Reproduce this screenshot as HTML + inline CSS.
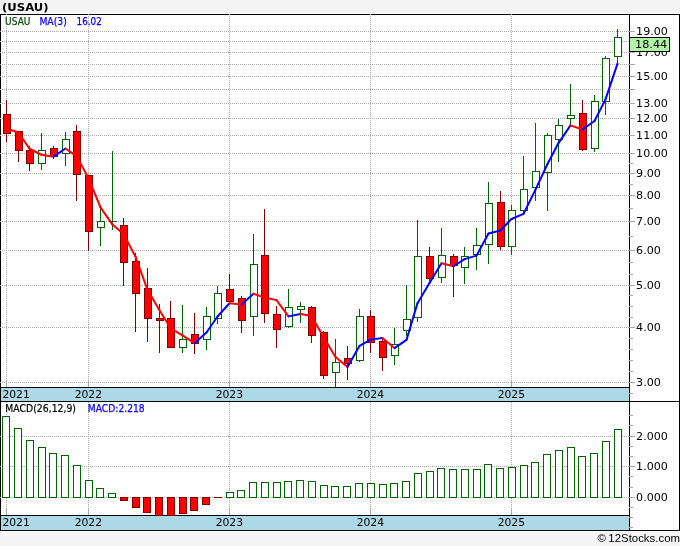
<!DOCTYPE html>
<html><head><meta charset="utf-8"><title>USAU</title>
<style>html,body{margin:0;padding:0;background:#f4f4f4;overflow:hidden}body{width:680px;height:546px;position:relative}</style></head>
<body>
<svg width="680" height="546" viewBox="0 0 680 546" style="position:absolute;left:0;top:0;display:block">
<rect x="0" y="0" width="680" height="546" fill="#f4f4f4"/>
<rect x="0" y="13" width="680" height="519" fill="#ffffff"/>
<rect x="1" y="388" width="628" height="13" fill="#add8e6"/>
<rect x="1" y="516" width="628" height="14" fill="#add8e6"/>
<g stroke="#000" stroke-width="1" shape-rendering="crispEdges" fill="none">
<rect x="0.5" y="14.5" width="679" height="516"/>
<path d="M629.5 14V531"/>
<path d="M0 387.5H630"/>
<path d="M0 401.5H680"/>
<path d="M0 515.5H630"/>
</g>
<g stroke="#a9a9a9" stroke-width="1" stroke-dasharray="1 1" shape-rendering="crispEdges" fill="none">
<path d="M0 31.5H629"/>
<path d="M0 41.5H629"/>
<path d="M0 52.5H629"/>
<path d="M0 64.5H629"/>
<path d="M0 76.5H629"/>
<path d="M0 89.5H629"/>
<path d="M0 103.5H629"/>
<path d="M0 118.5H629"/>
<path d="M0 135.5H629"/>
<path d="M0 153.5H629"/>
<path d="M0 173.5H629"/>
<path d="M0 195.5H629"/>
<path d="M0 221.5H629"/>
<path d="M0 250.5H629"/>
<path d="M0 285.5H629"/>
<path d="M0 327.5H629"/>
<path d="M0 382.5H629"/>
<path d="M0 497.5H629"/>
<path d="M0 466.5H629"/>
<path d="M0 436.5H629"/>
<path d="M6.5 14V381"/>
<path d="M6.5 402V509"/>
<path d="M88.5 14V381"/>
<path d="M88.5 402V509"/>
<path d="M229.5 14V381"/>
<path d="M229.5 402V509"/>
<path d="M370.5 14V381"/>
<path d="M370.5 402V509"/>
<path d="M511.5 14V381"/>
<path d="M511.5 402V509"/>
</g>
<g stroke="#a9a9a9" stroke-width="1" shape-rendering="crispEdges">
<path d="M6.5 381V387"/>
<path d="M6.5 509V515"/>
<path d="M88.5 381V387"/>
<path d="M88.5 509V515"/>
<path d="M229.5 381V387"/>
<path d="M229.5 509V515"/>
<path d="M370.5 381V387"/>
<path d="M370.5 509V515"/>
<path d="M511.5 381V387"/>
<path d="M511.5 509V515"/>
<path d="M628 31.5H635"/>
<path d="M628 41.5H635"/>
<path d="M628 52.5H635"/>
<path d="M628 64.5H635"/>
<path d="M628 76.5H635"/>
<path d="M628 89.5H635"/>
<path d="M628 103.5H635"/>
<path d="M628 118.5H635"/>
<path d="M628 135.5H635"/>
<path d="M628 153.5H635"/>
<path d="M628 173.5H635"/>
<path d="M628 195.5H635"/>
<path d="M628 221.5H635"/>
<path d="M628 250.5H635"/>
<path d="M628 285.5H635"/>
<path d="M628 327.5H635"/>
<path d="M628 382.5H635"/>
<path d="M629 163.5H633"/>
<path d="M629 184.5H633"/>
<path d="M629 208.5H633"/>
<path d="M629 236.5H633"/>
<path d="M629 262.5H633"/>
<path d="M629 274.5H633"/>
<path d="M629 295.5H633"/>
<path d="M629 306.5H633"/>
<path d="M629 317.5H633"/>
<path d="M629 338.5H633"/>
<path d="M629 349.5H633"/>
<path d="M629 360.5H633"/>
<path d="M629 371.5H633"/>
<path d="M629 393.5H633"/>
<path d="M628 497.5H635"/>
<path d="M628 466.5H635"/>
<path d="M628 436.5H635"/>
<path d="M629 527.5H633"/>
<path d="M629 517.5H633"/>
<path d="M629 507.5H633"/>
<path d="M629 487.5H633"/>
<path d="M629 476.5H633"/>
<path d="M629 456.5H633"/>
<path d="M629 446.5H633"/>
<path d="M629 425.5H633"/>
<path d="M629 415.5H633"/>
</g>
<g shape-rendering="crispEdges" stroke-width="1">
<path d="M6.5 100.00V141.75" stroke="#800000"/>
<rect x="3.5" y="114.5" width="7" height="19.0" fill="#ff0000" stroke="#800000"/>
<path d="M18.5 131.25V161.50" stroke="#800000"/>
<rect x="15.5" y="131.5" width="7" height="19.0" fill="#ff0000" stroke="#800000"/>
<path d="M29.5 145.50V170.50" stroke="#800000"/>
<rect x="26.5" y="150.5" width="7" height="13.0" fill="#ff0000" stroke="#800000"/>
<path d="M41.5 133.00V170.20" stroke="#006400"/>
<rect x="38.5" y="150.5" width="7" height="13.0" fill="#ffffff" stroke="#006400"/>
<path d="M53.5 146.25V158.75" stroke="#800000"/>
<rect x="50.5" y="148.5" width="7" height="8.0" fill="#ff0000" stroke="#800000"/>
<path d="M65.5 132.00V165.75" stroke="#006400"/>
<rect x="62.5" y="139.5" width="7" height="14.0" fill="#ffffff" stroke="#006400"/>
<path d="M76.5 125.00V200.50" stroke="#800000"/>
<rect x="73.5" y="131.5" width="7" height="43.0" fill="#ff0000" stroke="#800000"/>
<path d="M88.5 175.00V250.50" stroke="#800000"/>
<rect x="85.5" y="175.5" width="7" height="56.0" fill="#ff0000" stroke="#800000"/>
<path d="M100.5 204.50V245.50" stroke="#006400"/>
<rect x="97.5" y="221.5" width="7" height="6.0" fill="#ffffff" stroke="#006400"/>
<path d="M112.5 151.25V229.50" stroke="#006400"/>
<path d="M109.0 221.5H117.0" stroke="#006400"/>
<path d="M123.5 218.00V285.50" stroke="#800000"/>
<rect x="120.5" y="225.5" width="7" height="37.0" fill="#ff0000" stroke="#800000"/>
<path d="M135.5 252.50V331.50" stroke="#800000"/>
<rect x="132.5" y="261.5" width="7" height="32.0" fill="#ff0000" stroke="#800000"/>
<path d="M147.5 268.00V341.50" stroke="#800000"/>
<rect x="144.5" y="288.5" width="7" height="30.0" fill="#ff0000" stroke="#800000"/>
<path d="M159.5 304.00V352.50" stroke="#800000"/>
<rect x="156.5" y="318.5" width="7" height="2.0" fill="#ff0000" stroke="#800000"/>
<path d="M170.5 301.25V347.00" stroke="#800000"/>
<rect x="167.5" y="318.5" width="7" height="29.0" fill="#ff0000" stroke="#800000"/>
<path d="M182.5 305.00V352.50" stroke="#006400"/>
<rect x="179.5" y="339.5" width="7" height="8.0" fill="#ffffff" stroke="#006400"/>
<path d="M194.5 313.00V353.75" stroke="#800000"/>
<rect x="191.5" y="334.5" width="7" height="9.0" fill="#ff0000" stroke="#800000"/>
<path d="M206.5 307.00V349.50" stroke="#006400"/>
<rect x="203.5" y="316.5" width="7" height="23.0" fill="#ffffff" stroke="#006400"/>
<path d="M217.5 286.25V323.75" stroke="#006400"/>
<rect x="214.5" y="293.5" width="7" height="25.0" fill="#ffffff" stroke="#006400"/>
<path d="M229.5 274.25V303.75" stroke="#800000"/>
<rect x="226.5" y="289.5" width="7" height="12.0" fill="#ff0000" stroke="#800000"/>
<path d="M241.5 296.25V332.50" stroke="#800000"/>
<rect x="238.5" y="298.5" width="7" height="22.0" fill="#ff0000" stroke="#800000"/>
<path d="M253.5 234.25V335.50" stroke="#006400"/>
<rect x="250.5" y="264.5" width="7" height="52.0" fill="#ffffff" stroke="#006400"/>
<path d="M264.5 208.75V322.50" stroke="#800000"/>
<rect x="261.5" y="255.5" width="7" height="58.0" fill="#ff0000" stroke="#800000"/>
<path d="M276.5 305.50V347.50" stroke="#800000"/>
<rect x="273.5" y="314.5" width="7" height="15.0" fill="#ff0000" stroke="#800000"/>
<path d="M288.5 289.25V327.50" stroke="#006400"/>
<rect x="285.5" y="307.5" width="7" height="19.0" fill="#ffffff" stroke="#006400"/>
<path d="M300.5 302.00V322.50" stroke="#006400"/>
<rect x="297.5" y="306.5" width="7" height="3.0" fill="#ffffff" stroke="#006400"/>
<path d="M311.5 305.75V342.50" stroke="#800000"/>
<rect x="308.5" y="307.5" width="7" height="28.0" fill="#ff0000" stroke="#800000"/>
<path d="M323.5 330.75V378.75" stroke="#800000"/>
<rect x="320.5" y="332.5" width="7" height="43.0" fill="#ff0000" stroke="#800000"/>
<path d="M335.5 339.25V387.00" stroke="#006400"/>
<rect x="332.5" y="362.5" width="7" height="10.0" fill="#ffffff" stroke="#006400"/>
<path d="M347.5 346.25V379.50" stroke="#800000"/>
<rect x="344.5" y="358.5" width="7" height="5.0" fill="#ff0000" stroke="#800000"/>
<path d="M359.5 309.25V361.50" stroke="#006400"/>
<rect x="356.5" y="316.5" width="7" height="44.0" fill="#ffffff" stroke="#006400"/>
<path d="M370.5 310.00V352.50" stroke="#800000"/>
<rect x="367.5" y="316.5" width="7" height="26.0" fill="#ff0000" stroke="#800000"/>
<path d="M382.5 338.75V370.75" stroke="#800000"/>
<rect x="379.5" y="341.5" width="7" height="16.0" fill="#ff0000" stroke="#800000"/>
<path d="M394.5 328.00V365.00" stroke="#006400"/>
<rect x="391.5" y="344.5" width="7" height="11.0" fill="#ffffff" stroke="#006400"/>
<path d="M406.5 285.25V336.00" stroke="#006400"/>
<rect x="403.5" y="319.5" width="7" height="11.0" fill="#ffffff" stroke="#006400"/>
<path d="M417.5 220.00V321.75" stroke="#006400"/>
<rect x="414.5" y="256.5" width="7" height="61.0" fill="#ffffff" stroke="#006400"/>
<path d="M429.5 246.75V281.00" stroke="#800000"/>
<rect x="426.5" y="256.5" width="7" height="22.0" fill="#ff0000" stroke="#800000"/>
<path d="M441.5 228.00V282.50" stroke="#006400"/>
<rect x="438.5" y="255.5" width="7" height="22.0" fill="#ffffff" stroke="#006400"/>
<path d="M453.5 253.75V296.75" stroke="#800000"/>
<rect x="450.5" y="256.5" width="7" height="9.0" fill="#ff0000" stroke="#800000"/>
<path d="M464.5 246.75V283.75" stroke="#006400"/>
<rect x="461.5" y="256.5" width="7" height="11.0" fill="#ffffff" stroke="#006400"/>
<path d="M476.5 228.00V270.00" stroke="#006400"/>
<rect x="473.5" y="245.5" width="7" height="9.0" fill="#ffffff" stroke="#006400"/>
<path d="M488.5 182.00V263.75" stroke="#006400"/>
<rect x="485.5" y="203.5" width="7" height="41.0" fill="#ffffff" stroke="#006400"/>
<path d="M500.5 191.25V250.00" stroke="#800000"/>
<rect x="497.5" y="202.5" width="7" height="44.0" fill="#ff0000" stroke="#800000"/>
<path d="M511.5 204.50V254.50" stroke="#006400"/>
<rect x="508.5" y="210.5" width="7" height="36.0" fill="#ffffff" stroke="#006400"/>
<path d="M523.5 156.25V213.75" stroke="#006400"/>
<rect x="520.5" y="189.5" width="7" height="21.0" fill="#ffffff" stroke="#006400"/>
<path d="M535.5 123.25V201.25" stroke="#006400"/>
<rect x="532.5" y="171.5" width="7" height="16.0" fill="#ffffff" stroke="#006400"/>
<path d="M547.5 132.50V210.50" stroke="#006400"/>
<rect x="544.5" y="135.5" width="7" height="37.0" fill="#ffffff" stroke="#006400"/>
<path d="M558.5 118.75V161.75" stroke="#006400"/>
<rect x="555.5" y="125.5" width="7" height="14.0" fill="#ffffff" stroke="#006400"/>
<path d="M570.5 84.00V125.00" stroke="#006400"/>
<rect x="567.5" y="115.5" width="7" height="3.0" fill="#ffffff" stroke="#006400"/>
<path d="M582.5 100.00V150.75" stroke="#800000"/>
<rect x="579.5" y="113.5" width="7" height="36.0" fill="#ff0000" stroke="#800000"/>
<path d="M594.5 95.10V152.00" stroke="#006400"/>
<rect x="591.5" y="101.5" width="7" height="47.0" fill="#ffffff" stroke="#006400"/>
<path d="M605.5 56.30V114.70" stroke="#006400"/>
<rect x="602.5" y="58.5" width="7" height="43.0" fill="#ffffff" stroke="#006400"/>
<path d="M617.5 29.10V64.00" stroke="#006400"/>
<rect x="614.5" y="37.5" width="7" height="19.0" fill="#ffffff" stroke="#006400"/>
</g>
<g shape-rendering="crispEdges" stroke-width="1">
<rect x="2.5" y="416.5" width="7" height="81.0" fill="#ffffff" stroke="#006400"/>
<rect x="14.5" y="428.5" width="7" height="69.0" fill="#ffffff" stroke="#006400"/>
<rect x="26.5" y="440.5" width="7" height="57.0" fill="#ffffff" stroke="#006400"/>
<rect x="38.5" y="447.5" width="7" height="50.0" fill="#ffffff" stroke="#006400"/>
<rect x="49.5" y="453.5" width="7" height="44.0" fill="#ffffff" stroke="#006400"/>
<rect x="61.5" y="455.5" width="7" height="42.0" fill="#ffffff" stroke="#006400"/>
<rect x="73.5" y="465.5" width="7" height="32.0" fill="#ffffff" stroke="#006400"/>
<rect x="85.5" y="480.5" width="7" height="17.0" fill="#ffffff" stroke="#006400"/>
<rect x="96.5" y="488.5" width="7" height="9.0" fill="#ffffff" stroke="#006400"/>
<rect x="108.5" y="493.5" width="7" height="4.0" fill="#ffffff" stroke="#006400"/>
<rect x="120.5" y="497.5" width="7" height="3.0" fill="#ff0000" stroke="#800000"/>
<rect x="132.5" y="497.5" width="7" height="10.0" fill="#ff0000" stroke="#800000"/>
<rect x="143.5" y="497.5" width="7" height="15.0" fill="#ff0000" stroke="#800000"/>
<rect x="155.5" y="497.5" width="7" height="18.0" fill="#ff0000" stroke="#800000"/>
<rect x="167.5" y="497.5" width="7" height="18.0" fill="#ff0000" stroke="#800000"/>
<rect x="179.5" y="497.5" width="7" height="16.0" fill="#ff0000" stroke="#800000"/>
<rect x="190.5" y="497.5" width="7" height="13.0" fill="#ff0000" stroke="#800000"/>
<rect x="202.5" y="497.5" width="7" height="7.0" fill="#ff0000" stroke="#800000"/>
<path d="M214.0 497.5H222.0" stroke="#800000"/>
<rect x="226.5" y="492.5" width="7" height="5.0" fill="#ffffff" stroke="#006400"/>
<rect x="237.5" y="490.5" width="7" height="7.0" fill="#ffffff" stroke="#006400"/>
<rect x="249.5" y="482.5" width="7" height="15.0" fill="#ffffff" stroke="#006400"/>
<rect x="261.5" y="482.5" width="7" height="15.0" fill="#ffffff" stroke="#006400"/>
<rect x="273.5" y="482.5" width="7" height="15.0" fill="#ffffff" stroke="#006400"/>
<rect x="284.5" y="481.5" width="7" height="16.0" fill="#ffffff" stroke="#006400"/>
<rect x="296.5" y="480.5" width="7" height="17.0" fill="#ffffff" stroke="#006400"/>
<rect x="308.5" y="481.5" width="7" height="16.0" fill="#ffffff" stroke="#006400"/>
<rect x="320.5" y="485.5" width="7" height="12.0" fill="#ffffff" stroke="#006400"/>
<rect x="331.5" y="486.5" width="7" height="11.0" fill="#ffffff" stroke="#006400"/>
<rect x="343.5" y="486.5" width="7" height="11.0" fill="#ffffff" stroke="#006400"/>
<rect x="355.5" y="483.5" width="7" height="14.0" fill="#ffffff" stroke="#006400"/>
<rect x="367.5" y="483.5" width="7" height="14.0" fill="#ffffff" stroke="#006400"/>
<rect x="379.5" y="484.5" width="7" height="13.0" fill="#ffffff" stroke="#006400"/>
<rect x="390.5" y="483.5" width="7" height="14.0" fill="#ffffff" stroke="#006400"/>
<rect x="402.5" y="481.5" width="7" height="16.0" fill="#ffffff" stroke="#006400"/>
<rect x="414.5" y="473.5" width="7" height="24.0" fill="#ffffff" stroke="#006400"/>
<rect x="426.5" y="471.5" width="7" height="26.0" fill="#ffffff" stroke="#006400"/>
<rect x="437.5" y="468.5" width="7" height="29.0" fill="#ffffff" stroke="#006400"/>
<rect x="449.5" y="469.5" width="7" height="28.0" fill="#ffffff" stroke="#006400"/>
<rect x="461.5" y="469.5" width="7" height="28.0" fill="#ffffff" stroke="#006400"/>
<rect x="473.5" y="469.5" width="7" height="28.0" fill="#ffffff" stroke="#006400"/>
<rect x="484.5" y="464.5" width="7" height="33.0" fill="#ffffff" stroke="#006400"/>
<rect x="496.5" y="468.5" width="7" height="29.0" fill="#ffffff" stroke="#006400"/>
<rect x="508.5" y="467.5" width="7" height="30.0" fill="#ffffff" stroke="#006400"/>
<rect x="520.5" y="465.5" width="7" height="32.0" fill="#ffffff" stroke="#006400"/>
<rect x="531.5" y="462.5" width="7" height="35.0" fill="#ffffff" stroke="#006400"/>
<rect x="543.5" y="454.5" width="7" height="43.0" fill="#ffffff" stroke="#006400"/>
<rect x="555.5" y="450.5" width="7" height="47.0" fill="#ffffff" stroke="#006400"/>
<rect x="567.5" y="447.5" width="7" height="50.0" fill="#ffffff" stroke="#006400"/>
<rect x="578.5" y="456.5" width="7" height="41.0" fill="#ffffff" stroke="#006400"/>
<rect x="590.5" y="453.5" width="7" height="44.0" fill="#ffffff" stroke="#006400"/>
<rect x="602.5" y="441.5" width="7" height="56.0" fill="#ffffff" stroke="#006400"/>
<rect x="614.5" y="429.5" width="7" height="68.0" fill="#ffffff" stroke="#006400"/>
</g>
<g stroke-width="2.0" stroke-linecap="round" fill="none">
<path d="M6.5 128.50L18.5 132.50" stroke="#ff0000"/>
<path d="M18.5 132.50L29.5 148.77" stroke="#ff0000"/>
<path d="M29.5 148.77L41.5 154.74" stroke="#ff0000"/>
<path d="M41.5 154.74L53.5 156.68" stroke="#ff0000"/>
<path d="M53.5 156.68L65.5 148.54" stroke="#0000ff"/>
<path d="M65.5 148.54L76.5 156.12" stroke="#ff0000"/>
<path d="M76.5 156.12L88.5 178.04" stroke="#ff0000"/>
<path d="M88.5 178.04L100.5 207.43" stroke="#ff0000"/>
<path d="M100.5 207.43L112.5 224.61" stroke="#ff0000"/>
<path d="M112.5 224.61L123.5 233.96" stroke="#ff0000"/>
<path d="M123.5 233.96L135.5 256.62" stroke="#ff0000"/>
<path d="M135.5 256.62L147.5 289.79" stroke="#ff0000"/>
<path d="M147.5 289.79L159.5 310.18" stroke="#ff0000"/>
<path d="M159.5 310.18L170.5 328.05" stroke="#ff0000"/>
<path d="M170.5 328.05L182.5 335.34" stroke="#ff0000"/>
<path d="M182.5 335.34L194.5 343.14" stroke="#ff0000"/>
<path d="M194.5 343.14L206.5 332.54" stroke="#0000ff"/>
<path d="M206.5 332.54L217.5 316.51" stroke="#0000ff"/>
<path d="M217.5 316.51L229.5 303.27" stroke="#0000ff"/>
<path d="M229.5 303.27L241.5 304.58" stroke="#ff0000"/>
<path d="M241.5 304.58L253.5 293.72" stroke="#0000ff"/>
<path d="M253.5 293.72L264.5 297.57" stroke="#ff0000"/>
<path d="M264.5 297.57L276.5 300.12" stroke="#ff0000"/>
<path d="M276.5 300.12L288.5 316.36" stroke="#ff0000"/>
<path d="M288.5 316.36L300.5 314.04" stroke="#0000ff"/>
<path d="M300.5 314.04L311.5 315.95" stroke="#ff0000"/>
<path d="M311.5 315.95L323.5 336.99" stroke="#ff0000"/>
<path d="M323.5 336.99L335.5 357.10" stroke="#ff0000"/>
<path d="M335.5 357.10L347.5 366.91" stroke="#ff0000"/>
<path d="M347.5 366.91L359.5 345.95" stroke="#0000ff"/>
<path d="M359.5 345.95L370.5 339.62" stroke="#0000ff"/>
<path d="M370.5 339.62L382.5 337.98" stroke="#0000ff"/>
<path d="M382.5 337.98L394.5 348.05" stroke="#ff0000"/>
<path d="M394.5 348.05L406.5 339.84" stroke="#0000ff"/>
<path d="M406.5 339.84L417.5 303.14" stroke="#0000ff"/>
<path d="M417.5 303.14L429.5 283.07" stroke="#0000ff"/>
<path d="M429.5 283.07L441.5 263.21" stroke="#0000ff"/>
<path d="M441.5 263.21L453.5 266.27" stroke="#ff0000"/>
<path d="M453.5 266.27L464.5 259.11" stroke="#0000ff"/>
<path d="M464.5 259.11L476.5 255.66" stroke="#0000ff"/>
<path d="M476.5 255.66L488.5 233.57" stroke="#0000ff"/>
<path d="M488.5 233.57L500.5 230.48" stroke="#0000ff"/>
<path d="M500.5 230.48L511.5 219.00" stroke="#0000ff"/>
<path d="M511.5 219.00L523.5 213.90" stroke="#0000ff"/>
<path d="M523.5 213.90L535.5 189.66" stroke="#0000ff"/>
<path d="M535.5 189.66L547.5 164.00" stroke="#0000ff"/>
<path d="M547.5 164.00L558.5 143.09" stroke="#0000ff"/>
<path d="M558.5 143.09L570.5 125.32" stroke="#0000ff"/>
<path d="M570.5 125.32L582.5 129.56" stroke="#ff0000"/>
<path d="M582.5 129.56L594.5 120.95" stroke="#0000ff"/>
<path d="M594.5 120.95L605.5 99.34" stroke="#0000ff"/>
<path d="M605.5 99.34L617.5 63.60" stroke="#0000ff"/>
</g>
<text x="636.1" y="35.2" font-family="DejaVu Sans, Liberation Sans, sans-serif" font-size="11" fill="#000" textLength="31.8" lengthAdjust="spacingAndGlyphs">19.00</text>
<text x="636.1" y="56.2" font-family="DejaVu Sans, Liberation Sans, sans-serif" font-size="11" fill="#000" textLength="31.8" lengthAdjust="spacingAndGlyphs">17.00</text>
<text x="636.1" y="80.2" font-family="DejaVu Sans, Liberation Sans, sans-serif" font-size="11" fill="#000" textLength="31.8" lengthAdjust="spacingAndGlyphs">15.00</text>
<text x="636.1" y="107.2" font-family="DejaVu Sans, Liberation Sans, sans-serif" font-size="11" fill="#000" textLength="31.8" lengthAdjust="spacingAndGlyphs">13.00</text>
<text x="636.1" y="122.2" font-family="DejaVu Sans, Liberation Sans, sans-serif" font-size="11" fill="#000" textLength="31.8" lengthAdjust="spacingAndGlyphs">12.00</text>
<text x="636.1" y="139.2" font-family="DejaVu Sans, Liberation Sans, sans-serif" font-size="11" fill="#000" textLength="31.8" lengthAdjust="spacingAndGlyphs">11.00</text>
<text x="636.1" y="157.2" font-family="DejaVu Sans, Liberation Sans, sans-serif" font-size="11" fill="#000" textLength="31.8" lengthAdjust="spacingAndGlyphs">10.00</text>
<text x="636.1" y="177.2" font-family="DejaVu Sans, Liberation Sans, sans-serif" font-size="11" fill="#000" textLength="24.8" lengthAdjust="spacingAndGlyphs">9.00</text>
<text x="636.1" y="199.2" font-family="DejaVu Sans, Liberation Sans, sans-serif" font-size="11" fill="#000" textLength="24.8" lengthAdjust="spacingAndGlyphs">8.00</text>
<text x="636.1" y="225.2" font-family="DejaVu Sans, Liberation Sans, sans-serif" font-size="11" fill="#000" textLength="24.8" lengthAdjust="spacingAndGlyphs">7.00</text>
<text x="636.1" y="254.2" font-family="DejaVu Sans, Liberation Sans, sans-serif" font-size="11" fill="#000" textLength="24.8" lengthAdjust="spacingAndGlyphs">6.00</text>
<text x="636.1" y="289.2" font-family="DejaVu Sans, Liberation Sans, sans-serif" font-size="11" fill="#000" textLength="24.8" lengthAdjust="spacingAndGlyphs">5.00</text>
<text x="636.1" y="331.2" font-family="DejaVu Sans, Liberation Sans, sans-serif" font-size="11" fill="#000" textLength="24.8" lengthAdjust="spacingAndGlyphs">4.00</text>
<text x="636.1" y="386.2" font-family="DejaVu Sans, Liberation Sans, sans-serif" font-size="11" fill="#000" textLength="24.8" lengthAdjust="spacingAndGlyphs">3.00</text>
<rect x="629.5" y="37.5" width="40" height="14" fill="#b0f5a6" stroke="#000" stroke-width="1" shape-rendering="crispEdges"/>
<text x="635.0" y="47.9" font-family="DejaVu Sans, Liberation Sans, sans-serif" font-size="11" fill="#000" textLength="32.2" lengthAdjust="spacingAndGlyphs" >18.44</text>
<text x="636.1" y="501.2" font-family="DejaVu Sans, Liberation Sans, sans-serif" font-size="11" fill="#000" textLength="31.8" lengthAdjust="spacingAndGlyphs" >0.000</text>
<text x="636.1" y="470.2" font-family="DejaVu Sans, Liberation Sans, sans-serif" font-size="11" fill="#000" textLength="31.8" lengthAdjust="spacingAndGlyphs" >1.000</text>
<text x="636.1" y="440.2" font-family="DejaVu Sans, Liberation Sans, sans-serif" font-size="11" fill="#000" textLength="31.8" lengthAdjust="spacingAndGlyphs" >2.000</text>
<text x="2.4" y="398" font-family="DejaVu Sans, Liberation Sans, sans-serif" font-size="11" fill="#000" textLength="27.4" lengthAdjust="spacingAndGlyphs" >2021</text>
<text x="2.4" y="526.2" font-family="DejaVu Sans, Liberation Sans, sans-serif" font-size="11" fill="#000" textLength="27.4" lengthAdjust="spacingAndGlyphs" >2021</text>
<text x="74.65" y="398" font-family="DejaVu Sans, Liberation Sans, sans-serif" font-size="11" fill="#000" textLength="27.4" lengthAdjust="spacingAndGlyphs" >2022</text>
<text x="74.65" y="526.2" font-family="DejaVu Sans, Liberation Sans, sans-serif" font-size="11" fill="#000" textLength="27.4" lengthAdjust="spacingAndGlyphs" >2022</text>
<text x="215.65" y="398" font-family="DejaVu Sans, Liberation Sans, sans-serif" font-size="11" fill="#000" textLength="27.4" lengthAdjust="spacingAndGlyphs" >2023</text>
<text x="215.65" y="526.2" font-family="DejaVu Sans, Liberation Sans, sans-serif" font-size="11" fill="#000" textLength="27.4" lengthAdjust="spacingAndGlyphs" >2023</text>
<text x="356.65" y="398" font-family="DejaVu Sans, Liberation Sans, sans-serif" font-size="11" fill="#000" textLength="27.4" lengthAdjust="spacingAndGlyphs" >2024</text>
<text x="356.65" y="526.2" font-family="DejaVu Sans, Liberation Sans, sans-serif" font-size="11" fill="#000" textLength="27.4" lengthAdjust="spacingAndGlyphs" >2024</text>
<text x="497.65" y="398" font-family="DejaVu Sans, Liberation Sans, sans-serif" font-size="11" fill="#000" textLength="27.4" lengthAdjust="spacingAndGlyphs" >2025</text>
<text x="497.65" y="526.2" font-family="DejaVu Sans, Liberation Sans, sans-serif" font-size="11" fill="#000" textLength="27.4" lengthAdjust="spacingAndGlyphs" >2025</text>
<text x="5.1" y="24.7" font-family="DejaVu Sans, Liberation Sans, sans-serif" font-size="9.6" fill="#0f4f0f" textLength="25.4" lengthAdjust="spacingAndGlyphs" stroke="#0f4f0f" stroke-width="0.25">USAU</text>
<text x="39.4" y="24.7" font-family="DejaVu Sans, Liberation Sans, sans-serif" font-size="9.6" fill="#0a00ff" textLength="27.4" lengthAdjust="spacingAndGlyphs" stroke="#0a00ff" stroke-width="0.25">MA(3)</text>
<text x="76.6" y="24.7" font-family="DejaVu Sans, Liberation Sans, sans-serif" font-size="9.6" fill="#0a00ff" textLength="25.2" lengthAdjust="spacingAndGlyphs" stroke="#0a00ff" stroke-width="0.25">16.02</text>
<text x="5.3" y="411.8" font-family="DejaVu Sans, Liberation Sans, sans-serif" font-size="9.6" fill="#000" textLength="70.7" lengthAdjust="spacingAndGlyphs" stroke="#000" stroke-width="0.2">MACD(26,12,9)</text>
<text x="87.8" y="411.8" font-family="DejaVu Sans, Liberation Sans, sans-serif" font-size="9.6" fill="#0a00ff" textLength="56.9" lengthAdjust="spacingAndGlyphs" stroke="#0a00ff" stroke-width="0.25">MACD:2.218</text>
<text x="2.0" y="10.6" font-family="DejaVu Sans, Liberation Sans, sans-serif" font-weight="bold" font-size="10.67" fill="#000" textLength="46.6" lengthAdjust="spacingAndGlyphs">(USAU)</text>
<text x="597.4" y="541.6" font-family="Liberation Sans, sans-serif" font-size="10.67" fill="#000" textLength="82.6" lengthAdjust="spacingAndGlyphs">©<tspan dx="2.4">12Stocks.com</tspan></text>
</svg>
</body></html>
